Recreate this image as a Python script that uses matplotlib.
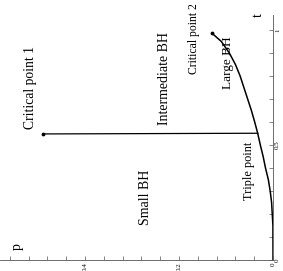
import numpy as np
import matplotlib
matplotlib.use("Agg")
import matplotlib.pyplot as plt
from matplotlib.ticker import MultipleLocator

# coexistence curve (small/large BH), from origin to critical point 2
curve_t = [0.0, 0.15, 0.25, 0.30, 0.35, 0.40, 0.45, 0.50, 0.551, 0.60, 0.65,
           0.70, 0.75, 0.80, 0.85, 0.90, 0.95, 0.986]
curve_p = [0.0, 0.0002, 0.003, 0.006, 0.010, 0.016, 0.021, 0.027, 0.0326, 0.039,
           0.046, 0.054, 0.062, 0.070, 0.080, 0.093, 0.110, 0.130]

# small/intermediate BH line, triple point -> critical point 1
line_t = [0.551, 0.548]
line_p = [0.0326, 0.489]

crit_t = [0.548, 0.986]
crit_p = [0.489, 0.130]

labels = ["Critical point 1", "Small BH", "Intermediate BH", "Critical point 2",
          "Large BH", "Triple point"]
label_p = [0.517, 0.272, 0.230, 0.168, 0.096, 0.051]
label_t = [0.748, 0.274, 0.791, 0.963, 0.857, 0.387]
label_size = [9.8, 10, 10, 8.4, 9.5, 8.8]

plt.rcParams["font.family"] = ["Liberation Serif", "DejaVu Serif"]

fig = plt.figure(figsize=(2.83, 2.71), dpi=100)
# the chart is drawn turned by 90 degrees: p runs right-to-left, t runs upward
ax = fig.add_axes([0.0, 0.0406, 0.9647, 0.904])

ax.plot(curve_p, curve_t, color="black", lw=1.1)
ax.plot(line_p, line_t, color="black", lw=0.9)
ax.scatter(crit_p, crit_t, s=3, color="black", zorder=3)

for txt, px, ty, fs in zip(labels, label_p, label_t, label_size):
    ax.text(px, ty, txt, rotation=90, ha="center", va="center", fontsize=fs)

ax.text(0.545, 0.057, "p", rotation=90, ha="center", va="center", fontsize=10)
ax.text(0.032, 1.065, "t", rotation=90, ha="center", va="center", fontsize=10)

ax.set_xlim(0.581, 0.0)
ax.set_ylim(0.0, 1.065)

for side in ["top", "left"]:
    ax.spines[side].set_visible(False)
for side in ["bottom", "right"]:
    ax.spines[side].set_linewidth(0.6)
    ax.spines[side].set_color("#555555")

ax.xaxis.set_minor_locator(MultipleLocator(0.04))
ax.yaxis.set_minor_locator(MultipleLocator(0.1))
ax.yaxis.tick_right()
ax.set_xticks([0.4, 0.2, 0.0])
ax.set_xticklabels(["0.4", "0.2", "0"], rotation=90)
ax.set_yticks([0.0, 0.5, 1.0])
ax.set_yticklabels(["0", "0.5", "1"], rotation=90, va="center")
ax.tick_params(which="both", direction="in", length=3, width=0.5,
               color="#555555", labelsize=5, pad=1.5)
ax.patch.set_alpha(0)

fig.savefig("out.png", dpi=100)
